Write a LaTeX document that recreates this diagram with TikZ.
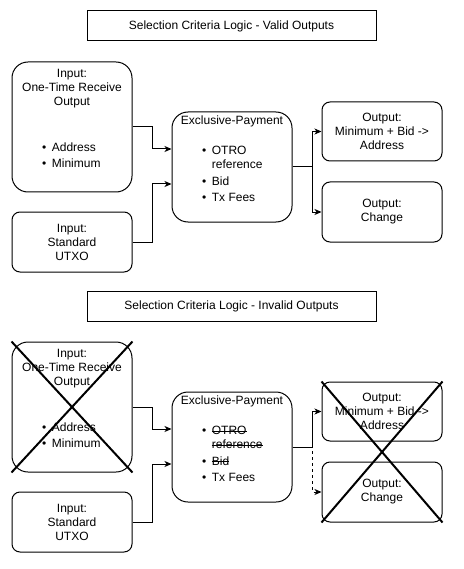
\documentclass[tikz,border=0pt]{standalone}
\usepackage{fontspec}
\setmainfont{Liberation Sans}
\usetikzlibrary{
    arrows.meta
}
\newcommand\strk[1]{\setbox0\hbox{#1}\rlap{\rule[0.3em]{\wd0}{0.7pt}}\box0}
\tikzset {
    txt/.style = {align = center, inner sep = 0pt, font = \fontsize{12}{14}\selectfont},
    items/.style = {anchor = west, inner sep = 0pt, font = \fontsize{12}{14}\selectfont},
    box/.style = {draw, line width = 1pt, rounded corners = 8pt, minimum width = 120pt, minimum height = 60pt, txt},
    big box/.style = {box, rounded corners = 16pt},
    title box/.style = {draw, line width = 1pt, minimum width = 289pt, minimum height = 30pt, txt},
    flow/.style = {line width = 1pt, -{Stealth[length = 7pt, width = 6pt, inset = 2pt]}},
    cross/.style = {line width = 2pt},
    %
    skipped/.style = {dash pattern = on 3pt off 3pt}
}

\begin{document}
\begin{tikzpicture}[x = 1pt, y = -1pt]
    \useasboundingbox (0, 0) rectangle (463, 569);
    % valid outputs
    \node (titleA) [title box] at (231.5, 26) {Selection Criteria Logic - Valid Outputs};
    \node (otroA) [big box, minimum height = 130pt] at (72, 127) {};
    \node (otroAt) [txt] at (72, 89) {Input:\\One-Time Receive\\Output};
    \node (otroAl) [items] at (42, 157) {\begin{tabular}{@{}l@{\hspace{5.5pt}}l@{}}
        \textbullet & Address\\[2pt] \textbullet & Minimum
    \end{tabular}};
    \node (stdA) [box] at (72, 242) {Input:\\Standard\\UTXO};
    \node (payA) [big box, minimum height = 110pt] at (232, 167) {};
    \node (payAt) [txt] at (232, 121) {Exclusive-Payment};
    \node (payAl) [items] at (202, 175.5) {\begin{tabular}{@{}l@{\hspace{5.5pt}}l@{}}
        \textbullet & OTRO\\ & reference\\[2.5pt] \textbullet & Bid\\[2.5pt] \textbullet & Tx Fees
    \end{tabular}};
    \node (minA) [box, minimum height = 59pt] at (382, 131.5) {Output:\\Minimum + Bid ->\\Address};
    \node (chgA) [box] at (382, 212) {Output:\\Change};
    \draw [flow] (otroA.east) -- ++(20, 0) |- ([yshift = 18pt]payA.west);
    \draw [flow] (stdA.east) -- ++(20, 0) |- ([yshift = -17pt]payA.west);
    \draw [flow] (payA.east) -- ++(20, 0) |- (minA.west);
    \draw [flow] (payA.east) -- ++(20, 0) |- (chgA.west);
    % invalid outputs
    \node (titleB) [title box] at (231.5, 306) {Selection Criteria Logic - Invalid Outputs};
    \node (otroB) [big box, minimum height = 130pt] at (72, 407) {};
    \node (otroBt) [txt] at (72, 369) {Input:\\One-Time Receive\\Output};
    \node (otroBl) [items] at (42, 437) {\begin{tabular}{@{}l@{\hspace{5.5pt}}l@{}}
        \textbullet & Address\\[2pt] \textbullet & Minimum
    \end{tabular}};
    \node (stdB) [box] at (72, 522) {Input:\\Standard\\UTXO};
    \node (payB) [big box, minimum height = 110pt] at (232, 447) {};
    \node (payBt) [txt] at (232, 401) {Exclusive-Payment};
    \node (payBl) [items] at (202, 455.5) {\begin{tabular}{@{}l@{\hspace{5.5pt}}l@{}}
        \textbullet & \strk{OTRO}\\ & \strk{reference}\\[2.5pt] \textbullet & \strk{Bid}\\[2.5pt] \textbullet & Tx Fees
    \end{tabular}};
    \node (minB) [box, minimum height = 59pt] at (382, 411.5) {Output:\\Minimum + Bid ->\\Address};
    \node (chgB) [box] at (382, 492) {Output:\\Change};
    \draw [flow] (otroB.east) -- ++(20, 0) |- ([yshift = 18pt]payB.west);
    \draw [flow] (stdB.east) -- ++(20, 0) |- ([yshift = -17pt]payB.west);
    \draw [flow] (payB.east) -- ++(20, 0) |- (minB.west);
    \draw [flow, skipped] (payB.east) -- ++(20, 0) |- (chgB.west);
    \draw [cross] (otroB.north west) -- (otroB.south east);
    \draw [cross] (otroB.north east) -- (otroB.south west);
    \draw [cross] (minB.north west) -- (chgB.south east);
    \draw [cross] (minB.north east) -- (chgB.south west);
\end{tikzpicture}
\end{document}
